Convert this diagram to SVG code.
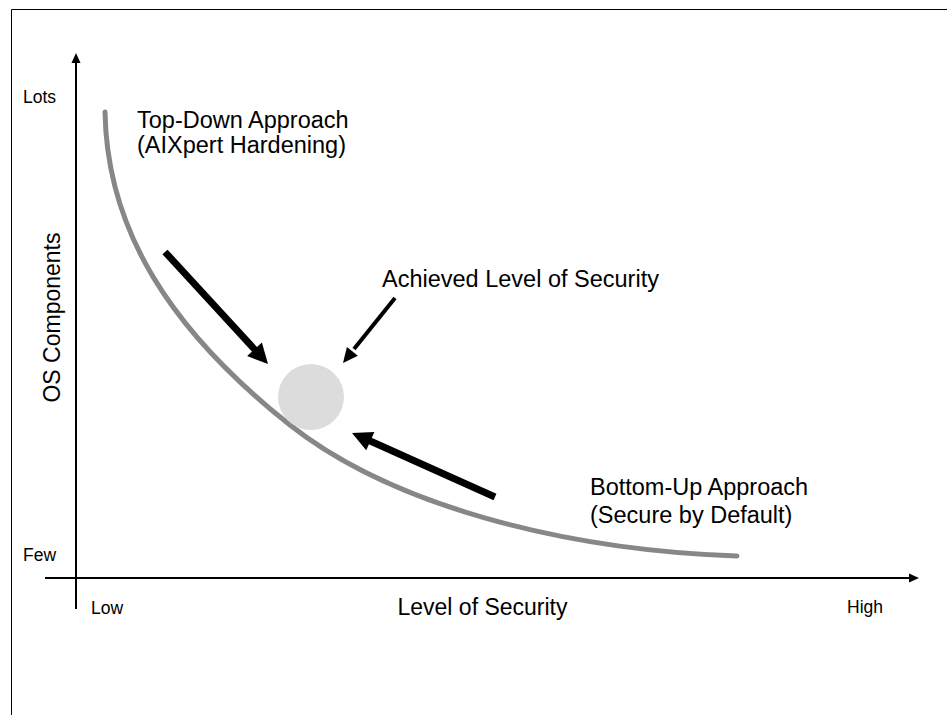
<svg xmlns="http://www.w3.org/2000/svg" width="947" height="715" viewBox="0 0 947 715">
<style>
text{font-family:"Liberation Sans",Arial,sans-serif;fill:#000}
.big{font-size:23.5px}
.small{font-size:17.5px}
.axis{stroke:#000;stroke-width:2;fill:none}
.fat{stroke:#000;stroke-width:7;fill:none}
.head{fill:#000}
</style>
<rect x="0" y="0" width="947" height="715" fill="#fff"/>
<path d="M11.5,715V9.5H947" stroke="#000" stroke-width="1" fill="none"/>
<g id="axes">
<line class="axis" x1="76" y1="609" x2="76" y2="62"/>
<polygon class="head" points="76,53 71.5,63 80.5,63"/>
<line class="axis" x1="45" y1="578" x2="910" y2="578"/>
<polygon class="head" points="919,578 909,573.5 909,582.5"/>
</g>
<g id="curve">
<path d="M105,112 C107,230 170,330 290,425 C390,504 560,550 737,556" stroke="#878787" stroke-width="5" fill="none" stroke-linecap="round"/>
</g>
<g id="ball"><circle cx="311" cy="397" r="33" fill="#dcdcdc"/></g>
<g id="connectors">
<line class="fat" x1="165" y1="252" x2="256" y2="351"/>
<polygon class="head" points="268,364 247.1,356.1 261.9,342.5"/>
<line class="fat" x1="495" y1="497" x2="368" y2="440"/>
<polygon class="head" points="352,433 374.4,432.1 366.2,450.3"/>
<line stroke="#000" stroke-width="4" x1="395" y1="298" x2="354" y2="349"/>
<polygon class="head" points="343,363 357.9,355.7 346.9,346.9"/>
</g>
<g id="labels">
<text class="small" x="23" y="103">Lots</text>
<text class="small" x="23" y="561">Few</text>
<text class="small" x="91" y="614">Low</text>
<text class="small" x="847" y="613">High</text>
<text class="big" x="482.5" y="615" text-anchor="middle" style="font-size:23px">Level of Security</text>
<text class="big" transform="translate(60,317.5) rotate(-90)" text-anchor="middle" style="font-size:23px">OS Components</text>
<text class="big" x="137" y="128">Top-Down Approach</text>
<text class="big" x="137" y="153">(AIXpert Hardening)</text>
<text class="big" x="382" y="287">Achieved Level of Security</text>
<text class="big" x="590" y="495">Bottom-Up Approach</text>
<text class="big" x="590" y="523">(Secure by Default)</text>
</g>
</svg>
